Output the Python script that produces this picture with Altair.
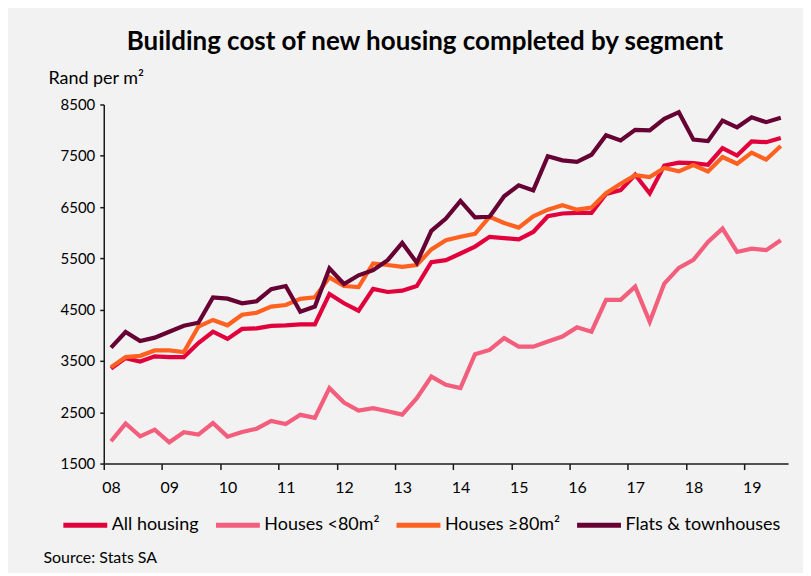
import altair as alt
import pandas as pd

# ---- data (quarterly, 2008Q1 .. 2019Q3) ----
quarters = list(range(47))
year_labels = ["08", "09", "10", "11", "12", "13", "14", "15", "16", "17", "18", "19"]
y_ticks = [1500, 2500, 3500, 4500, 5500, 6500, 7500, 8500]

series_names = ["All housing", "Houses <80m²", "Houses ≥80m²", "Flats & townhouses"]
colors = ["#e2003c", "#f25e7c", "#ff6121", "#670033"]

all_housing = [3350, 3555, 3490, 3590, 3575, 3575, 3850, 4070, 3930, 4125, 4135, 4185,
               4195, 4215, 4215, 4805, 4625, 4480, 4905, 4845, 4870, 4960, 5425, 5465,
               5595, 5730, 5920, 5895, 5870, 6015, 6320, 6375, 6385, 6385, 6755, 6830,
               7130, 6765, 7310, 7365, 7355, 7325, 7650, 7505, 7780, 7765, 7845]
houses_small = [1935, 2280, 2030, 2160, 1915, 2110, 2065, 2290, 2025, 2115, 2180, 2330,
                2270, 2450, 2390, 2970, 2690, 2535, 2580, 2520, 2455, 2775, 3195, 3035,
                2970, 3630, 3715, 3945, 3780, 3780, 3880, 3975, 4155, 4070, 4690, 4690,
                4950, 4265, 5010, 5315, 5470, 5820, 6080, 5625, 5690, 5660, 5855]
houses_large = [3380, 3575, 3600, 3705, 3705, 3675, 4170, 4300, 4195, 4400, 4440, 4560,
                4590, 4710, 4740, 5130, 4960, 4940, 5400, 5370, 5335, 5370, 5675, 5855,
                5920, 5980, 6310, 6190, 6100, 6320, 6450, 6535, 6450, 6490, 6770, 6955,
                7120, 7085, 7260, 7195, 7320, 7195, 7475, 7345, 7560, 7425, 7690]
flats = [3760, 4065, 3890, 3955, 4070, 4185, 4245, 4740, 4715, 4625, 4665, 4900,
         4960, 4460, 4560, 5305, 5000, 5170, 5270, 5465, 5800, 5415, 6035, 6275,
         6620, 6300, 6310, 6710, 6925, 6825, 7490, 7410, 7380, 7520, 7900, 7800,
         8005, 7995, 8220, 8350, 7815, 7785, 8185, 8055, 8250, 8155, 8240]

rows = []
for k, (name, vals) in enumerate(zip(series_names, [all_housing, houses_small, houses_large, flats])):
    for q, v in zip(quarters, vals):
        rows.append({"q": q, "value": v, "series": name, "ord": k})
df = pd.DataFrame(rows)

FONT = "Lato"
label_expr = "[" + ",".join(f"'{y}'" for y in year_labels) + "][round((datum.value + 0.5) / 4)]"
x_tick_vals = [-0.5 + 4 * k for k in range(12)]

chart = alt.Chart(df).mark_line(strokeWidth=4.2).encode(
    x=alt.X("q:Q",
            scale=alt.Scale(domain=[-0.5, 46.5], nice=False, zero=False),
            axis=alt.Axis(values=x_tick_vals, labelExpr=label_expr, labelOffset=7.3,
                          tickSize=6, tickWidth=1.5, tickColor="#1a1a1a",
                          domainColor="#1a1a1a", domainWidth=1.5, grid=False,
                          labelFontSize=16, labelColor="#000", labelFont=FONT,
                          labelPadding=10, labelFlush=False,
                          title="Source: Stats SA", titleX=-61, titleY=94,
                          titleAlign="left", titleBaseline="middle", titleAnchor="start",
                          titleFontWeight="normal", titleFontSize=16, titleFont=FONT,
                          titleColor="#000")),
    y=alt.Y("value:Q",
            scale=alt.Scale(domain=[1500, 8500], nice=False, zero=False),
            axis=alt.Axis(values=y_ticks, format="d", tickSize=4, tickWidth=1.5,
                          tickColor="#1a1a1a",
                          domainColor="#1a1a1a", domainWidth=1.5, grid=False,
                          labelFontSize=15, labelColor="#000", labelFont=FONT,
                          labelPadding=5,
                          title="Rand per m²", titleAngle=0, titleX=-56, titleY=-21,
                          titleAlign="left", titleBaseline="alphabetic",
                          titleFontWeight="normal", titleFontSize=18, titleFont=FONT,
                          titleColor="#000")),
    color=alt.Color("series:N",
                    scale=alt.Scale(domain=series_names, range=colors),
                    sort=series_names,
                    legend=alt.Legend(orient="none", legendX=-43, legendY=397,
                                      direction="horizontal", columns=4, title=None,
                                      symbolType="stroke", symbolSize=1936,
                                      symbolStrokeWidth=5, labelFontSize=18,
                                      labelFont=FONT, labelColor="#000",
                                      labelOffset=2, columnPadding=6)),
    order=alt.Order("ord:Q"),
).properties(
    width=686,
    height=360,
    autosize=alt.AutoSizeParams(type="none"),
    padding={"left": 96, "top": 96, "right": 15, "bottom": 109},
    background="#f2f2f2",
    title=alt.TitleParams("Building cost of new housing completed by segment",
                          fontSize=26, fontWeight="bold", font=FONT, color="#000",
                          anchor="middle", dx=-21, dy=22, offset=11, baseline="bottom"),
).configure_view(stroke=None)

chart.save("out.html", embed_options={"renderer": "svg", "actions": False})
